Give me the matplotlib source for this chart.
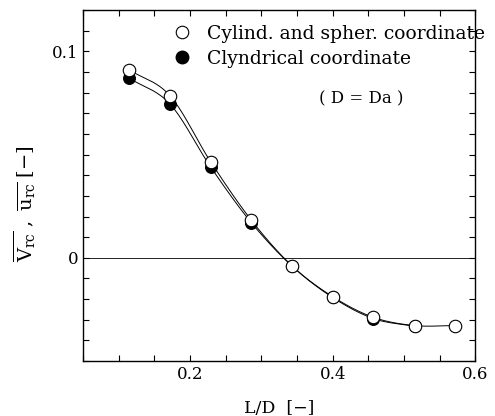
import numpy as np
import matplotlib
matplotlib.use("Agg")
import matplotlib.pyplot as plt
from matplotlib.lines import Line2D
from matplotlib.ticker import MultipleLocator

plt.rcParams['font.family'] = ['DejaVu Serif']
plt.rcParams['mathtext.fontset'] = 'dejavuserif'

# data
ld = [0.115, 0.172, 0.229, 0.286, 0.343, 0.400, 0.457, 0.515, 0.572]
v_sph = [0.0909, 0.0784, 0.0464, 0.0182, -0.0039, -0.0188, -0.0288, -0.0328, -0.0328]
ld_cyl = [0.115, 0.172, 0.229, 0.286, 0.343, 0.400, 0.457, 0.515]
v_cyl = [0.0869, 0.0744, 0.0439, 0.0170, -0.0040, -0.0192, -0.0294, -0.0332]


def smooth(x, y, n=20):
    # Catmull-Rom curve through the points, just for drawing
    x = np.asarray(x, float)
    y = np.asarray(y, float)
    px = np.concatenate([[2 * x[0] - x[1]], x, [2 * x[-1] - x[-2]]])
    py = np.concatenate([[2 * y[0] - y[1]], y, [2 * y[-1] - y[-2]]])
    t = np.linspace(0, 1, n)[:, None]
    xs, ys = [], []
    for i in range(1, len(px) - 2):
        for p, out in ((px, xs), (py, ys)):
            p0, p1, p2, p3 = p[i - 1], p[i], p[i + 1], p[i + 2]
            c = 0.5 * (2 * p1 + (-p0 + p2) * t + (2 * p0 - 5 * p1 + 4 * p2 - p3) * t ** 2
                       + (-p0 + 3 * p1 - 3 * p2 + p3) * t ** 3)
            out.append(c.ravel())
    return np.concatenate(xs), np.concatenate(ys)


fig = plt.figure(figsize=(4.95, 4.16), dpi=100)
ax = fig.add_axes([0.168, 0.132, 0.792, 0.844])

ax.axhline(0, color='black', lw=0.6)

sx, sy = smooth(ld_cyl, v_cyl)
ax.plot(sx, sy, color='black', lw=0.7)
sx, sy = smooth(ld, v_sph)
ax.plot(sx, sy, color='black', lw=0.7)

ax.plot(ld_cyl, v_cyl, 'o', ms=8.5, mfc='black', mec='black', mew=0.8)
ax.plot(ld, v_sph, 'o', ms=9, mfc='white', mec='black', mew=0.8)

ax.set_xlim(0.05, 0.6)
ax.set_ylim(-0.05, 0.12)
ax.xaxis.set_minor_locator(MultipleLocator(0.05))
ax.yaxis.set_minor_locator(MultipleLocator(0.01))
ax.set_xticks([0.2, 0.4, 0.6])
ax.set_xticklabels(['0.2', '0.4', '0.6'])
ax.set_yticks([0, 0.1])
ax.set_yticklabels(['0', '0.1'])
ax.tick_params(which='both', direction='in', top=True, right=True, length=4, width=0.8, labelsize=12)

ax.set_xlabel('L/D  [\u2212]', fontsize=12.5, labelpad=12)
ax.set_ylabel(r'$\overline{\mathrm{V}_{\rm rc}}\ ,\ \overline{\mathrm{u}_{\rm rc}}$' + ' [\u2212]',
              fontsize=14)
ax.yaxis.set_label_coords(-0.115, 0.45)

handles = [Line2D([], [], ls='none', marker='o', ms=9, mfc='white', mec='black', mew=0.8),
           Line2D([], [], ls='none', marker='o', ms=9, mfc='black', mec='black')]
leg = ax.legend(handles, ['Cylind. and spher. coordinate', 'Clyndrical coordinate'],
                loc='upper left', bbox_to_anchor=(0.215, 0.98), frameon=False, fontsize=13.5,
                handlelength=0.8, handletextpad=0.9, labelspacing=0.4, borderaxespad=0)
leg.set_clip_on(False)
ax.text(0.71, 0.746, '( D = Da )', transform=ax.transAxes, ha='center', va='center', fontsize=12)

for s in ax.spines.values():
    s.set_linewidth(1.0)

fig.savefig('out.png', dpi=100)
